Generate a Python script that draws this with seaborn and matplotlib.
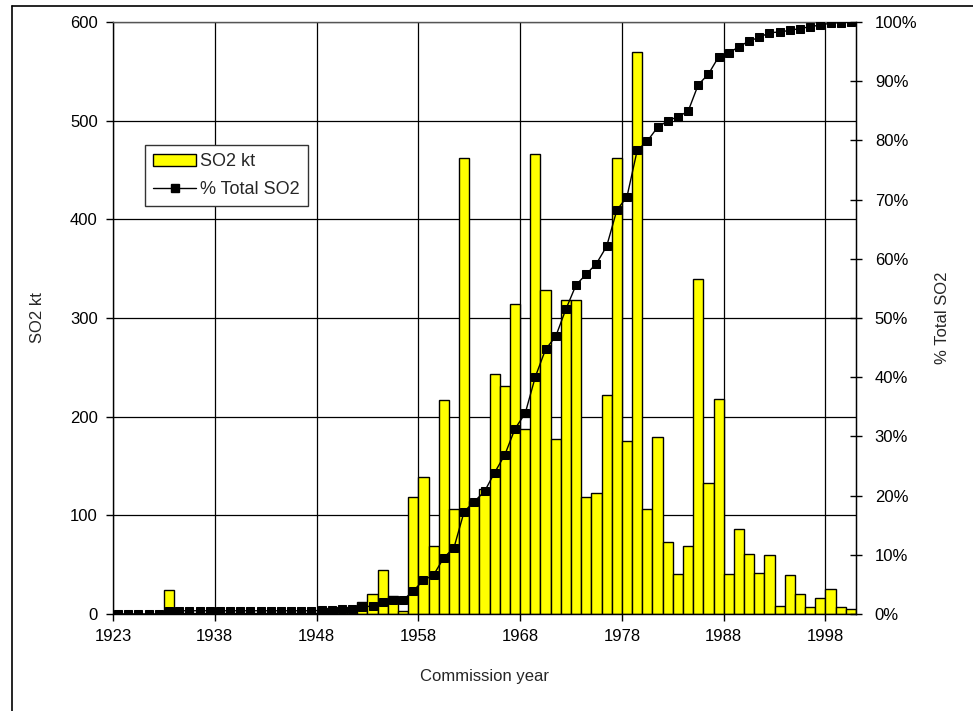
import numpy as np
import pandas as pd
import matplotlib
matplotlib.use("Agg")
import matplotlib.pyplot as plt
from matplotlib.lines import Line2D
from matplotlib.patches import Patch
from matplotlib.ticker import FuncFormatter
import seaborn as sns

# --- data (one bar per commission year) ---
years = [1923, 1924, 1925, 1926, 1927, 1929, 1930, 1931, 1934, 1936] + list(range(1938, 2001))

so2_kt = [0, 0, 0, 0, 0, 24, 1.5, 1.5, 1.5, 1.5,
          1.5, 1.5, 1.5, 1.5, 1.5, 1.5, 1.5, 1.5, 1.5, 1.5,
          2, 6, 7, 6, 12, 20, 45, 18, 3.5, 119,
          139, 69, 217, 106, 462, 115, 127, 243, 231, 314,
          188, 466, 328, 177, 318, 318, 119, 123, 222, 462,
          175, 570, 106, 179, 73, 41, 69, 340, 133, 218,
          41, 86, 61, 42, 60, 8.5, 39.5, 20, 7.5, 16.5,
          25.5, 7.5, 5.5]

pct_total = [0, 0, 0, 0, 0, 0.5, 0.55, 0.55, 0.55, 0.55,
             0.55, 0.55, 0.55, 0.55, 0.55, 0.55, 0.55, 0.55, 0.55, 0.55,
             0.6, 0.7, 0.8, 0.9, 1.1, 1.4, 2.05, 2.3, 2.35, 3.9,
             5.7, 6.6, 9.5, 11.2, 17.3, 19.0, 20.7, 23.9, 26.9, 31.3,
             33.9, 40.1, 44.7, 46.9, 51.5, 55.6, 57.4, 59.2, 62.1, 68.2,
             70.5, 78.3, 79.9, 82.2, 83.3, 84.0, 84.9, 89.4, 91.2, 94.1,
             94.8, 95.8, 96.8, 97.4, 98.2, 98.3, 98.6, 98.9, 99.2, 99.5,
             99.8, 99.9, 100]

df = pd.DataFrame({"year": years, "so2": so2_kt, "pct": pct_total})
df["pos"] = np.arange(len(df))

sns.set_style("ticks")
plt.rcParams["font.family"] = ["Liberation Sans", "DejaVu Sans"]
plt.rcParams["font.size"] = 12

fig = plt.figure(figsize=(9.73, 7.11), dpi=100)
ax = fig.add_axes([113 / 973, 1 - 614 / 711, 743 / 973, 592 / 711])

# bars
sns.barplot(data=df, x="year", y="so2", color="#FFFF00", saturation=1,
            edgecolor="black", linewidth=1, width=1, ax=ax, zorder=2)
ax.set_axisbelow(True)
ax.set_xlim(-0.5, len(df) - 0.5)
ax.set_ylim(0, 600)
ax.set_yticks(range(0, 601, 100))
tick_idx = list(range(0, len(df), 10))
ax.set_xticks([i - 0.5 for i in tick_idx])
ax.set_xticklabels([str(years[i]) for i in tick_idx])
ax.grid(True, color="black", linewidth=0.9)
ax.tick_params(axis="both", direction="out", length=5, width=1, colors="black",
               labelsize=12, pad=6)
ax.set_xlabel("Commission year", fontsize=12, labelpad=18)
ax.set_ylabel("SO2 kt", fontsize=12, labelpad=18)
for s in ax.spines.values():
    s.set_color("black")
    s.set_linewidth(1)
ax.spines["top"].set_color("#555555")

# cumulative line on the right axis
ax2 = ax.twinx()
sns.lineplot(data=df, x="pos", y="pct", color="black", linewidth=1,
             marker="s", markersize=6, markeredgecolor="black", ax=ax2)
ax2.set_ylim(0, 100)
ax2.set_yticks(range(0, 101, 10))
ax2.yaxis.set_major_formatter(FuncFormatter(lambda v, p: f"{v:.0f}%"))
ax2.tick_params(axis="y", direction="inout", length=9, width=1, colors="black",
                labelsize=12, pad=9)
ax2.set_ylabel("% Total SO2", fontsize=12, labelpad=13)
ax2.set_xlabel("")
for s in ax2.spines.values():
    s.set_visible(False)
ax2.spines["right"].set_visible(True)
ax2.spines["right"].set_color("black")
ax2.set_xlim(-0.5, len(df) - 0.5)

handles = [Patch(facecolor="#FFFF00", edgecolor="black", linewidth=1),
           Line2D([], [], color="black", linewidth=1, marker="s", markersize=6)]
leg = ax2.legend(handles, ["SO2 kt", "% Total SO2"], loc="upper left",
                 bbox_to_anchor=(0.043, 0.792), borderaxespad=0,
                 frameon=True, fancybox=False,
                 framealpha=1, edgecolor="#333333", fontsize=13,
                 handlelength=2.4, handleheight=0.6, handletextpad=0.2,
                 borderpad=0.45, labelspacing=0.6)
leg.get_frame().set_linewidth(1)

# outer chart border
fig.add_artist(Line2D([12 / 973, 1], [1 - 6 / 711, 1 - 6 / 711], color="black",
                      linewidth=1.2, transform=fig.transFigure))
fig.add_artist(Line2D([12 / 973, 12 / 973], [0, 1 - 6 / 711], color="black",
                      linewidth=1.2, transform=fig.transFigure))

fig.savefig("out.png", dpi=100)
